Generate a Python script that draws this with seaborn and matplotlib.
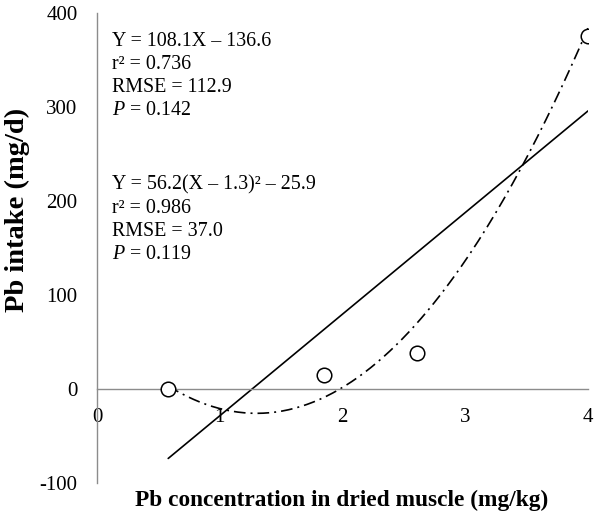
import numpy as np
import pandas as pd
import matplotlib
matplotlib.use("Agg")
import matplotlib.pyplot as plt
import seaborn as sns

# Data
conc = [0.58, 1.85, 2.61, 4.0]          # Pb concentration in dried muscle (mg/kg)
intake = [0.0, 15.0, 38.0, 376.0]       # Pb intake (mg/d)
lin_coef = [108.1, -136.6]              # Y = a X + b
quad_coef = [56.2, 1.3, -25.9]          # Y = a (X - h)^2 + k
xticks = [0, 1, 2, 3, 4]
yticks = [-100, 0, 100, 200, 300, 400]
eq1 = ["Y = 108.1X \u2013 136.6", "r\u00b2 = 0.736", "RMSE = 112.9", "$\\it{P}$ = 0.142"]
eq2 = ["Y = 56.2(X \u2013 1.3)\u00b2 \u2013 25.9", "r\u00b2 = 0.986", "RMSE = 37.0", "$\\it{P}$ = 0.119"]

sns.set_theme(style="white")
plt.rcParams["font.family"] = ["Liberation Serif", "DejaVu Serif"]
plt.rcParams["mathtext.fontset"] = "custom"
plt.rcParams["mathtext.it"] = "Liberation Serif:italic"
plt.rcParams["mathtext.rm"] = "Liberation Serif"
plt.rcParams["axes.unicode_minus"] = False
plt.rcParams["text.color"] = "black"
plt.rcParams["axes.labelcolor"] = "black"
plt.rcParams["xtick.color"] = "black"
plt.rcParams["ytick.color"] = "black"

fig = plt.figure(figsize=(6, 5.17), dpi=100)
ax = fig.add_axes([0.1617, 0.0658, 0.8183, 0.9091])

xs = np.linspace(min(conc), max(conc), 200)
lin_df = pd.DataFrame({"x": xs, "y": lin_coef[0] * xs + lin_coef[1]})
quad_df = pd.DataFrame({"x": xs, "y": quad_coef[0] * (xs - quad_coef[1]) ** 2 + quad_coef[2]})

sns.lineplot(data=lin_df, x="x", y="y", ax=ax, color="black", linewidth=1.2)
sns.lineplot(data=quad_df, x="x", y="y", ax=ax, color="black", linewidth=1.2)
ax.lines[-1].set_dashes([7, 3, 1.2, 3])
sns.scatterplot(x=conc, y=intake, ax=ax, marker="o", s=110, facecolor="white",
                edgecolor="black", linewidth=1.1, zorder=5)

ax.set_xlim(0, 4)
ax.set_ylim(-100, 400)
ax.set_xticks(xticks)
ax.set_yticks(yticks)
for sp in ["top", "right"]:
    ax.spines[sp].set_visible(False)
ax.spines["bottom"].set_position(("data", 0))
for sp in ["left", "bottom"]:
    ax.spines[sp].set_color("#8c8c8c")
    ax.spines[sp].set_linewidth(1.0)
ax.tick_params(axis="both", direction="out", length=5, color="#8c8c8c", width=1.0,
               labelsize=15, labelcolor="black")
ax.tick_params(axis="x", pad=9)
ax.tick_params(axis="y", pad=9)

ax.set_xlabel("Pb concentration in dried muscle (mg/kg)", fontsize=16.8, fontweight="bold")
ax.set_ylabel("Pb intake (mg/d)", fontsize=20.5, fontweight="bold")
ax.xaxis.set_label_coords(342 / 600, 1 - 500 / 517, transform=fig.transFigure)
ax.yaxis.set_label_coords(17 / 600, 1 - 209.5 / 517, transform=fig.transFigure)
ax.xaxis.label.set_va("center")
ax.yaxis.label.set_va("center")

for i, s in enumerate(eq1):
    ax.text(0.12, 370 - i * 24.7, s, fontsize=14.4, va="center", ha="left")
for i, s in enumerate(eq2):
    ax.text(0.12, 217 - i * 24.7, s, fontsize=14.4, va="center", ha="left")

fig.savefig("out.png", dpi=100)
